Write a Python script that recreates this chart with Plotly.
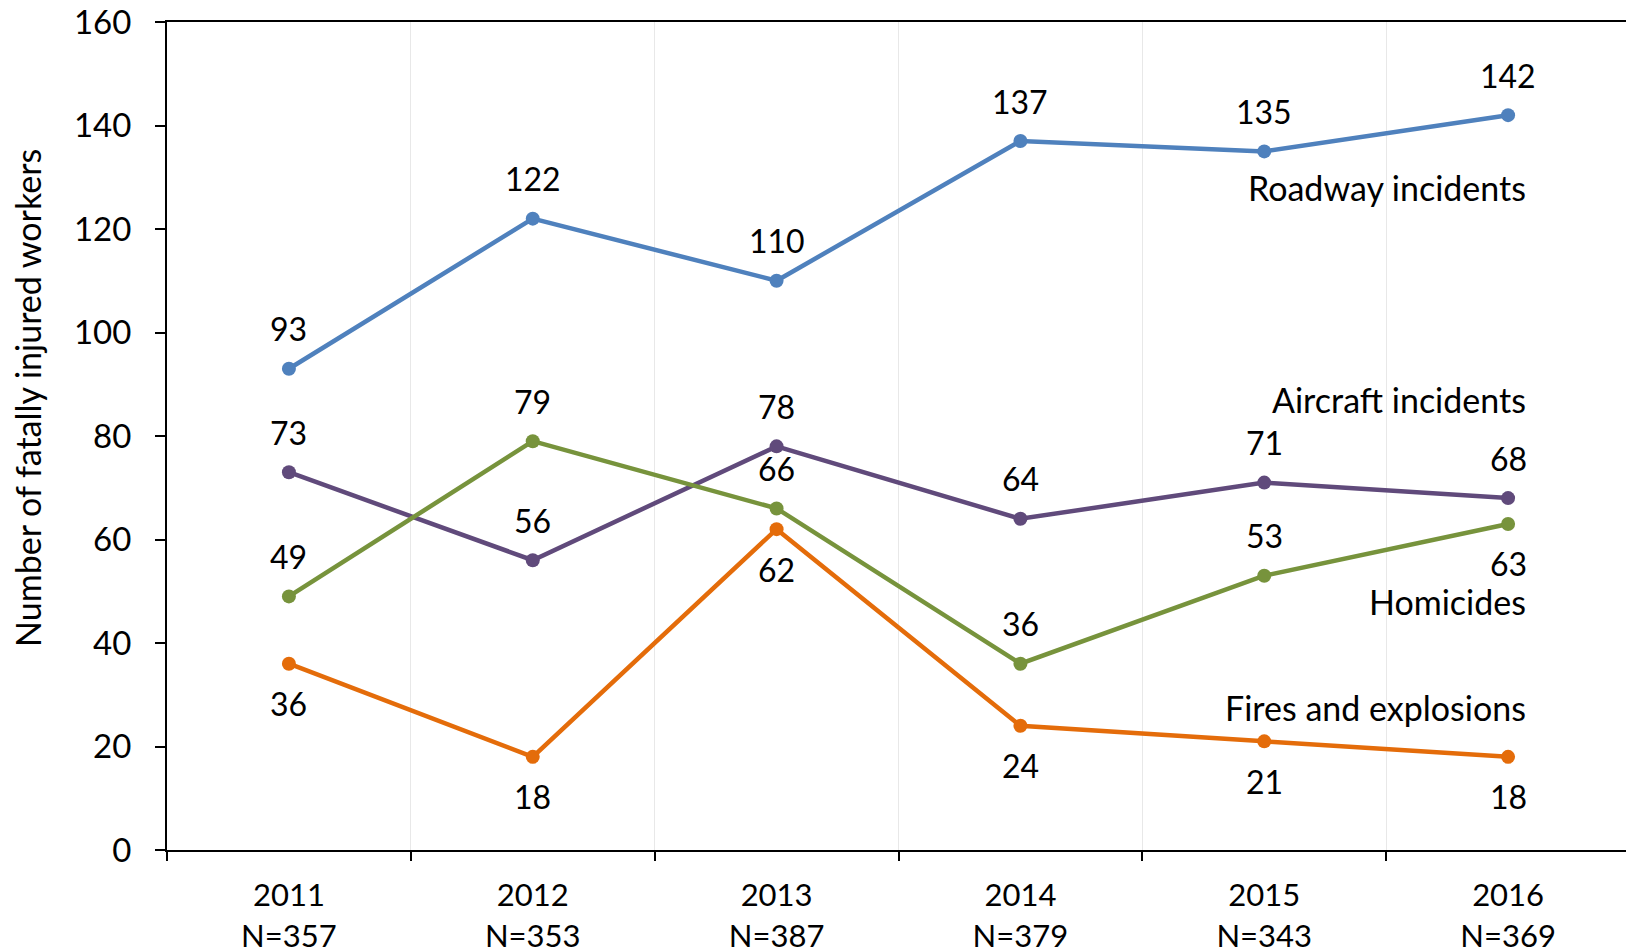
"""Fatally injured workers by event type, 2011-2016."""

import plotly.graph_objects as go

years = ['2011', '2012', '2013', '2014', '2015', '2016']
totals = ['N=357', 'N=353', 'N=387', 'N=379', 'N=343', 'N=369']

roadway = [93, 122, 110, 137, 135, 142]
aircraft = [73, 56, 78, 64, 71, 68]
homicides = [49, 79, 66, 36, 53, 63]
fires = [36, 18, 62, 24, 21, 18]

# label placement per point: 1 = above, -1 = below
roadway_pos = [1, 1, 1, 1, 1, 1]
aircraft_pos = [1, 1, 1, 1, 1, 1]
homicides_pos = [1, 1, 1, 1, 1, -1]
fires_pos = [-1, -1, -1, -1, -1, -1]

series = [
    ('Roadway incidents', roadway, roadway_pos, '#4F81BD', 128),
    ('Aircraft incidents', aircraft, aircraft_pos, '#604A7B', 87),
    ('Homicides', homicides, homicides_pos, '#77933C', 48),
    ('Fires and explosions', fires, fires_pos, '#E46C0A', 27.5),
]

FONT = 'Lato'
fig = go.Figure()

# invisible trace so the boundary tick/grid axis is drawn
fig.add_trace(go.Scatter(x=[-0.5, 5.5], y=[0, 0], xaxis='x2', mode='none',
                         hoverinfo='skip', showlegend=False))

annotations = []
for name, values, pos, color, label_y in series:
    fig.add_trace(go.Scatter(x=list(range(len(years))), y=values, name=name,
                             mode='lines+markers',
                             line=dict(color=color, width=4.5),
                             marker=dict(color=color, size=14)))
    for i, (v, p) in enumerate(zip(values, pos)):
        annotations.append(dict(x=i, y=v, text=str(v), showarrow=False,
                                yshift=40 * p,
                                font=dict(size=32, color='black', family=FONT)))
    annotations.append(dict(x=5.08, y=label_y, text=name, showarrow=False,
                            xanchor='right',
                            font=dict(size=34, color='black', family=FONT)))

# y-axis title, sits a little above the plot centre as in the original
annotations.append(dict(xref='paper', yref='paper', x=0, y=0.546,
                        xshift=-139, textangle=-90, showarrow=False,
                        xanchor='center', yanchor='middle',
                        text='Number of fatally injured workers',
                        font=dict(size=34, color='black', family=FONT)))

tick_text = ['{}<br>{}'.format(y, n) for y, n in zip(years, totals)]

# the page body adds an 8px offset, margins compensate for it
fig.update_layout(
    width=1634, height=950,
    margin=dict(l=159, r=12, t=14, b=108),
    paper_bgcolor='white', plot_bgcolor='white',
    showlegend=False,
    font=dict(family=FONT, size=32, color='black'),
    annotations=annotations,
    xaxis=dict(range=[-0.5, 5.5], tickvals=[0, 1, 2, 3, 4, 5], ticktext=tick_text,
               showgrid=False, zeroline=False, automargin=False,
               showline=True, linecolor='black', linewidth=2, mirror=True,
               ticks='', ticklabelstandoff=17, ticklabeloverflow='allow',
               tickfont=dict(size=31, family=FONT)),
    xaxis2=dict(range=[-0.5, 5.5], overlaying='x', automargin=False,
                tickvals=[-0.5, 0.5, 1.5, 2.5, 3.5, 4.5, 5.5],
                showticklabels=False, ticks='outside', ticklen=10,
                tickwidth=2, tickcolor='black',
                showgrid=True, gridcolor='#E8E8E8', gridwidth=1,
                side='bottom', showline=False, zeroline=False),
    yaxis=dict(range=[0, 160], dtick=20, showgrid=False, zeroline=False,
               automargin=False,
               showline=True, linecolor='black', linewidth=2, mirror=True,
               ticks='outside', ticklen=10, tickwidth=2, tickcolor='black',
               ticklabelstandoff=17, ticklabeloverflow='allow',
               tickfont=dict(size=33, family=FONT)),
)

fig.write_html('out.html')
